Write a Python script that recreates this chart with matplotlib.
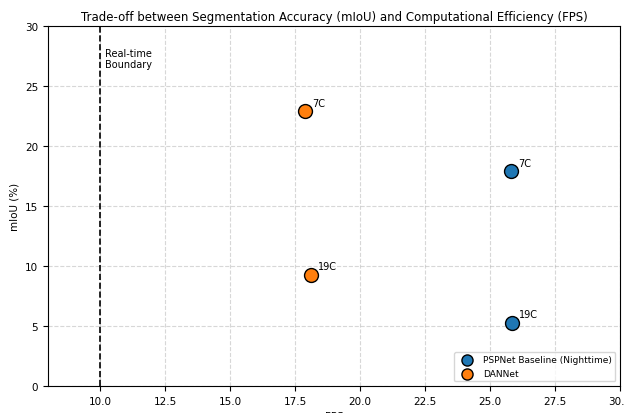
import matplotlib
matplotlib.use("Agg")
import matplotlib.pyplot as plt

# values
models = ["PSPNet Baseline (Nighttime)", "DANNet"]
colors = ["#1f77b4", "#ff7f0e"]
labels = ["7C", "19C"]
fps = {
    "PSPNet Baseline (Nighttime)": [25.8, 25.85],
    "DANNet": [17.88, 18.1],
}
miou = {
    "PSPNet Baseline (Nighttime)": [17.9, 5.25],
    "DANNet": [22.9, 9.25],
}
realtime_fps = 10

fig = plt.figure(figsize=(6.24, 4.14), dpi=100)
ax = fig.add_axes([0.0769, 0.0652, 0.9167, 0.8696])

for m, c in zip(models, colors):
    ax.scatter(fps[m], miou[m], s=100, color=c, edgecolor="black", linewidth=1,
               label=m, zorder=3)
    for x, y, lab in zip(fps[m], miou[m], labels):
        ax.annotate(lab, (x, y), xytext=(5, 4), textcoords="offset points", fontsize=7)

ax.axvline(realtime_fps, color="black", linestyle="--", linewidth=1.2)
ax.text(realtime_fps + 0.2, 28.2, "Real-time\nBoundary", fontsize=7, va="top")

ax.set_xlim(8, 30)
ax.set_ylim(0, 30)
ax.set_xlabel("FPS", fontsize=7.5)
ax.set_ylabel("mIoU (%)", fontsize=7.5)
ax.set_title("Trade-off between Segmentation Accuracy (mIoU) and Computational Efficiency (FPS)",
             fontsize=8.5, pad=4)
ax.tick_params(labelsize=7.5)
ax.grid(True, linestyle="--", alpha=0.5)
ax.legend(loc="lower right", fontsize=6.5, markerscale=0.8)

fig.savefig("out.png", dpi=100)
